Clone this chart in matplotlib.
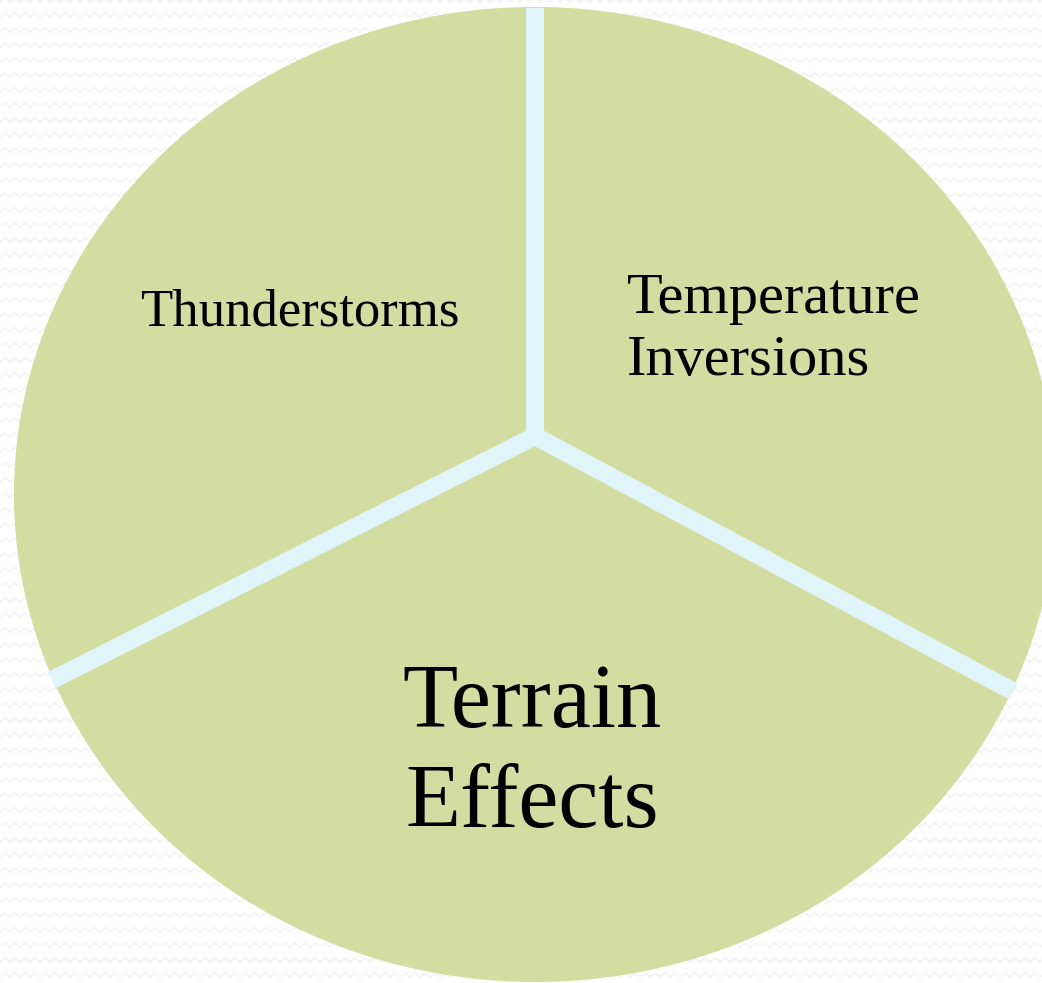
import numpy as np
import matplotlib
matplotlib.use("Agg")
import matplotlib.pyplot as plt

# ---- data ----
categories = ["Thunderstorms", "Terrain Effects", "Temperature Inversions"]
shares = [31.2, 37.2, 31.6]          # apparent share of each segment (%)
label_lines = [["Thunderstorms"], ["Terrain", "Effects"], ["Temperature", "Inversions"]]

# ---- style ----
W, H = 1042, 983
FILL = "#D3DDA2"
SEP = "#E0F5F9"
BG_LINE = "#F4F4F4"

fig = plt.figure(figsize=(W / 100, H / 100), dpi=100)
fig.patch.set_facecolor("white")

# background zig-zag texture
bg = fig.add_axes([0, 0, 1, 1], zorder=0)
bg.set_xlim(0, W)
bg.set_ylim(H, 0)
bg.axis("off")
xs = np.arange(0, W + 10, 5)
for y0 in range(2, H + 15, 15):
    ys = y0 + np.where((np.arange(len(xs)) % 2) == 0, 0, -4)
    bg.plot(xs, ys, color=BG_LINE, lw=1.3, solid_joinstyle="miter")


def px2fig(x, y):
    return x / W, 1 - y / H


# pie axes: ellipse spanning x 15..1055, y 8..981 (pixels)
left, right, top, bottom = 15, 1055, 8, 981
ax = fig.add_axes([left / W, 1 - bottom / H, (right - left) / W, (bottom - top) / H], zorder=1)
wedges, _ = ax.pie(shares, startangle=90, counterclock=True, radius=1.0,
                   colors=[FILL] * len(shares),
                   wedgeprops=dict(edgecolor=FILL, linewidth=1.5))
ax.set_aspect("auto")
ax.set_xlim(-1, 1)
ax.set_ylim(-1, 1)
ax.axis("off")

# separators meet at a junction slightly above centre
jy = 0.12
bounds = [w.theta1 for w in wedges]
lw_pt = 18 * 72 / 100
angles = sorted([b % 360 for b in bounds])
lower = [a for a in angles if abs(a - 90) > 1]
a_left = [a for a in lower if 90 < a < 270][0]
a_right = [a for a in lower if not (90 < a < 270)][0]
pl = (np.cos(np.radians(a_left)) * 1.005, np.sin(np.radians(a_left)) * 1.005)
pr = (np.cos(np.radians(a_right)) * 1.005, np.sin(np.radians(a_right)) * 1.005)
ax.plot([pl[0], 0, pr[0]], [pl[1], jy, pr[1]], color=SEP, lw=lw_pt,
        solid_capstyle="butt", solid_joinstyle="miter", zorder=3, clip_on=False)
ax.plot([0, 0], [jy, 1.0], color=SEP, lw=lw_pt, solid_capstyle="butt", zorder=3, clip_on=False)

# labels
font = "Liberation Serif"
x, y = px2fig(300, 326)
fig.text(x, y, label_lines[0][0], ha="center", va="baseline", fontsize=38, family=font, zorder=5)
x, y = px2fig(627, 313)
fig.text(x, y, label_lines[2][0], ha="left", va="baseline", fontsize=42, family=font, zorder=5)
x, y = px2fig(627, 375)
fig.text(x, y, label_lines[2][1], ha="left", va="baseline", fontsize=42, family=font, zorder=5)
x, y = px2fig(532, 727)
fig.text(x, y, label_lines[1][0], ha="center", va="baseline", fontsize=65, family=font, zorder=5)
x, y = px2fig(532, 827)
fig.text(x, y, label_lines[1][1], ha="center", va="baseline", fontsize=65, family=font, zorder=5)

fig.savefig("out.png", dpi=100)
